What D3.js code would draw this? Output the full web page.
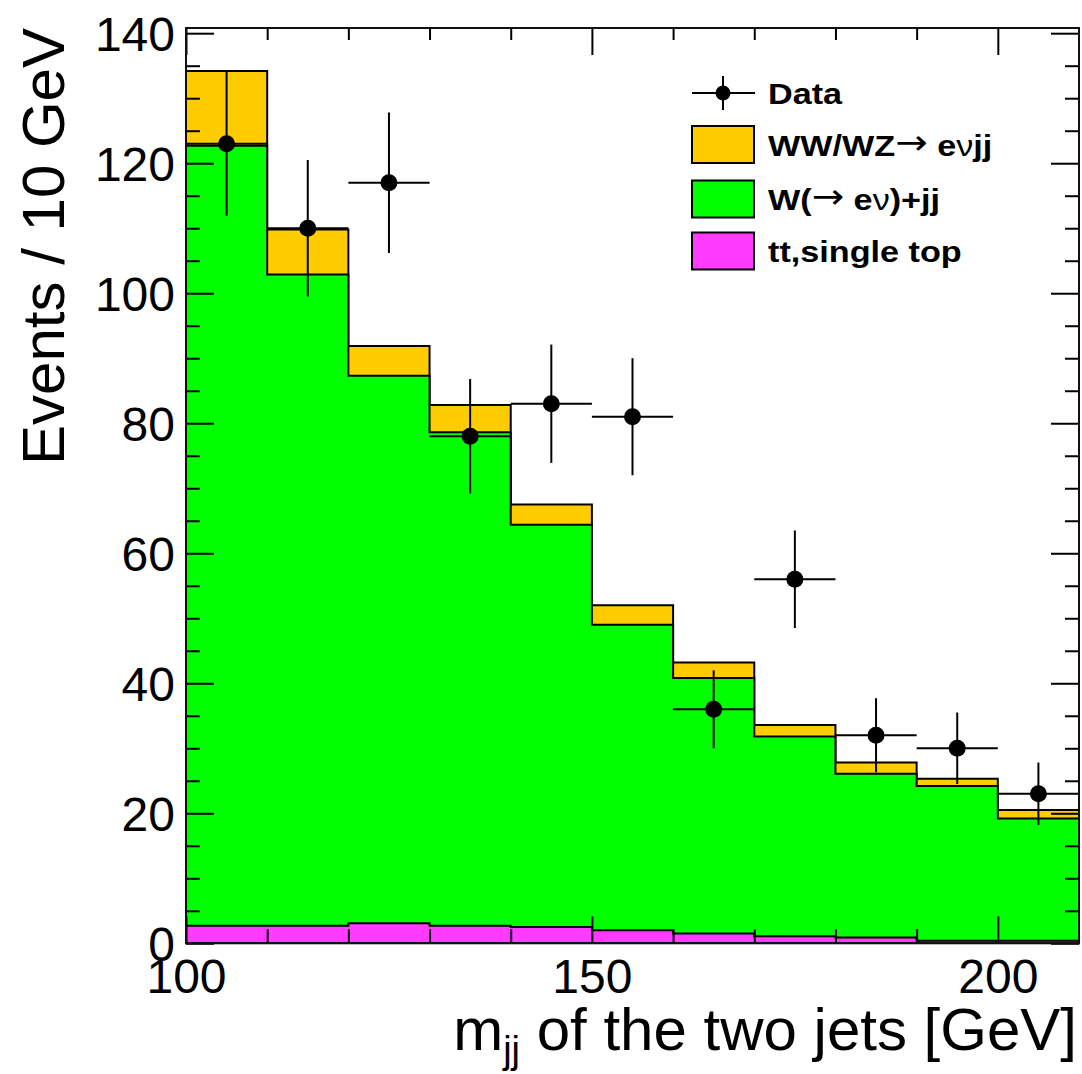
<!DOCTYPE html>
<html>
<head>
<meta charset="utf-8">
<script src="https://cdn.jsdelivr.net/npm/d3@7"></script>
<style>
  html, body { margin: 0; padding: 0; background: #fff; }
  svg { display: block; }
  text { font-family: "Liberation Sans", Arial, Helvetica, sans-serif; fill: #000; }
</style>
</head>
<body>
<svg id="chart" width="1082" height="1074"></svg>
<script>
// m_jj distribution, 10 GeV bins from 100 to 210 GeV
const binLow = [100, 110, 120, 130, 140, 150, 160, 170, 180, 190, 200];
const binWidth = 10;

// Background components (events per bin)
const topSingleTop = [2.7, 2.7, 3.1, 2.7, 2.5, 2.0, 1.5, 1.1, 0.9, 0.4, 0.4];
const wPlusJets    = [120.0, 100.2, 84.2, 75.9, 61.9, 47.0, 39.3, 30.7, 25.2, 23.8, 18.8];
const wwwzSignal   = [11.5, 6.9, 4.6, 4.2, 3.1, 3.0, 2.4, 1.8, 1.7, 1.1, 1.3];

// Observed data with statistical uncertainties
const dataCounts = [123, 110, 117, 78, 83, 81, 36, 56, 32, 30, 23];
const dataErrors = [11.1, 10.5, 10.8, 8.8, 9.1, 9.0, 6.0, 7.5, 5.7, 5.5, 4.8];

// Axis ticks
const yMajorTicks = [0, 20, 40, 60, 80, 100, 120, 140];
const yMinorTicks = [5, 10, 15, 25, 30, 35, 45, 50, 55, 65, 70, 75, 85, 90, 95, 105, 110, 115, 125, 130, 135];
const xMajorTicks = [100, 150, 200];
const xMinorTicks = [110, 120, 130, 140, 160, 170, 180, 190];

// Legend entries
const legendEntries = [
  { key: "data" },
  { key: "wwwz", color: "#ffcc00" },
  { key: "wjj", color: "#00ff00" },
  { key: "top", color: "#ff3cff" }
];

const svg = d3.select("#chart");
const plotLeft = 186, plotRight = 1079, plotTop = 28, plotBottom = 943.3;

const x = d3.scaleLinear().domain([100, 210]).range([plotLeft, plotRight]);
const y = d3.scaleLinear().domain([0, 140.8]).range([plotBottom, plotTop]);

// Stack the backgrounds: top first, W+jj, then WW/WZ
const rows = binLow.map((lo, i) => ({
  lo, top: topSingleTop[i], wjj: wPlusJets[i], wwwz: wwwzSignal[i]
}));
const stack = d3.stack().keys(["top", "wjj", "wwwz"]);
const layers = stack(rows);
const colors = { top: "#ff3cff", wjj: "#00ff00", wwwz: "#ffcc00" };

const stepLine = d3.line().x(d => x(d[0])).y(d => y(d[1]));
function histPoints(layer) {
  const pts = [[100, 0]];
  layer.forEach(d => {
    pts.push([d.data.lo, d[1]]);
    pts.push([d.data.lo + binWidth, d[1]]);
  });
  pts.push([210, 0]);
  return pts;
}

svg.append("clipPath").attr("id", "plotclip")
  .append("rect").attr("x", plotLeft).attr("y", plotTop)
  .attr("width", plotRight - plotLeft).attr("height", plotBottom - plotTop);

const hists = svg.append("g").attr("clip-path", "url(#plotclip)");
// cumulative histograms drawn from the largest down, each filled from zero
layers.slice().reverse().forEach(layer => {
  hists.append("path")
    .attr("d", stepLine(histPoints(layer)) + "Z")
    .attr("fill", colors[layer.key])
    .attr("stroke", "#000")
    .attr("stroke-width", 2)
    .attr("stroke-linejoin", "miter");
});

// Axes: ticks pointing inward on all four sides
const tickFont = 48;
function styleAxis(g) {
  g.select(".domain").remove();
  g.selectAll(".tick line").attr("stroke", "#000").attr("stroke-width", 2);
  g.selectAll("text").style("font-size", tickFont + "px");
}

svg.append("g").attr("transform", `translate(${plotLeft},0)`)
  .call(d3.axisLeft(y).tickValues(yMajorTicks).tickSize(-28).tickPadding(11).tickFormat(d3.format("d")))
  .call(styleAxis)
  .selectAll("text").attr("dy", "0.36em");
svg.append("g").attr("transform", `translate(${plotLeft},0)`)
  .call(d3.axisLeft(y).tickValues(yMinorTicks).tickSize(-14).tickFormat(""))
  .call(styleAxis);
svg.append("g").attr("transform", `translate(${plotRight},0)`)
  .call(d3.axisRight(y).tickValues(yMajorTicks).tickSize(-28).tickFormat(""))
  .call(styleAxis);
svg.append("g").attr("transform", `translate(${plotRight},0)`)
  .call(d3.axisRight(y).tickValues(yMinorTicks).tickSize(-14).tickFormat(""))
  .call(styleAxis);

svg.append("g").attr("transform", `translate(0,${plotBottom})`)
  .call(d3.axisBottom(x).tickValues(xMajorTicks).tickSize(-27).tickPadding(12).tickFormat(d3.format("d")))
  .call(styleAxis)
  .selectAll("text").attr("y", 50).attr("dy", 0);
svg.append("g").attr("transform", `translate(0,${plotBottom})`)
  .call(d3.axisBottom(x).tickValues(xMinorTicks).tickSize(-14).tickFormat(""))
  .call(styleAxis);
svg.append("g").attr("transform", `translate(0,${plotTop})`)
  .call(d3.axisTop(x).tickValues(xMajorTicks).tickSize(-27).tickFormat(""))
  .call(styleAxis);
svg.append("g").attr("transform", `translate(0,${plotTop})`)
  .call(d3.axisTop(x).tickValues(xMinorTicks).tickSize(-12).tickFormat(""))
  .call(styleAxis);

// Frame
svg.append("rect")
  .attr("x", plotLeft).attr("y", plotTop)
  .attr("width", plotRight - plotLeft).attr("height", plotBottom - plotTop)
  .attr("fill", "none").attr("stroke", "#111").attr("stroke-width", 2);

// Data points with error bars
const pts = svg.append("g").attr("clip-path", "url(#plotclip)");
binLow.forEach((lo, i) => {
  const cx = lo + binWidth / 2, v = dataCounts[i], e = dataErrors[i];
  pts.append("line")
    .attr("x1", x(lo)).attr("x2", x(lo + binWidth))
    .attr("y1", y(v)).attr("y2", y(v))
    .attr("stroke", "#000").attr("stroke-width", 2);
  pts.append("line")
    .attr("x1", x(cx)).attr("x2", x(cx))
    .attr("y1", y(v - e)).attr("y2", y(v + e))
    .attr("stroke", "#000").attr("stroke-width", 2);
  pts.append("circle")
    .attr("cx", x(cx)).attr("cy", y(v)).attr("r", 8.5)
    .attr("fill", "#000");
});

// Legend
const legend = svg.append("g");
const legX = 692, boxW = 62, textX = 768;
const rowY = [93, 144.5, 199, 251];
const legFont = 30;

// parts: [text, kind] where kind is "b" (bold), "sym" (thin symbol glyph), "arrow"
function legendText(yy, parts) {
  const t = legend.append("text")
    .attr("transform", `translate(${textX},${yy + 11}) scale(1.14,1)`)
    .style("font-size", legFont + "px")
    .style("font-weight", "bold");
  parts.forEach(p => {
    const s = t.append("tspan").text(p[0]);
    if (p[1] === "sym") {
      s.style("font-weight", "normal");
    } else if (p[1] === "arrow") {
      s.style("font-weight", "normal")
        .style("font-family", "'DejaVu Sans', sans-serif")
        .style("font-size", "34px")
        .attr("dy", -2);
    } else if (p[1] === "after") {
      s.attr("dy", 2);
    }
  });
}

legendEntries.forEach((entry, i) => {
  const cy = rowY[i];
  if (entry.key === "data") {
    legend.append("line").attr("x1", legX).attr("x2", legX + boxW + 1)
      .attr("y1", cy).attr("y2", cy).attr("stroke", "#000").attr("stroke-width", 2);
    legend.append("line").attr("x1", legX + 31).attr("x2", legX + 31)
      .attr("y1", cy - 17).attr("y2", cy + 17).attr("stroke", "#000").attr("stroke-width", 2);
    legend.append("circle").attr("cx", legX + 31).attr("cy", cy).attr("r", 7.5).attr("fill", "#000");
  } else {
    legend.append("rect").attr("x", legX).attr("y", cy - 18.5)
      .attr("width", boxW).attr("height", 37)
      .attr("fill", entry.color).attr("stroke", "#000").attr("stroke-width", 2);
  }
});
legendText(rowY[0], [["Data", "b"]]);
legendText(rowY[1], [["WW/WZ", "b"], ["\u2192", "arrow"], [" e", "after"], ["\u03bd", "sym"], ["jj", "b"]]);
legendText(rowY[2], [["W(", "b"], ["\u2192", "arrow"], [" e", "after"], ["\u03bd", "sym"], [")+jj", "b"]]);
legendText(rowY[3], [["tt,single top", "b"]]);

// Axis titles
svg.append("text")
  .attr("transform", `translate(64,${plotTop}) rotate(-90)`)
  .attr("text-anchor", "end")
  .style("font-size", "60px")
  .text("Events / 10 GeV");

const xt = svg.append("text")
  .attr("x", 1077).attr("y", 1050)
  .attr("text-anchor", "end")
  .style("font-size", "60px");
xt.append("tspan").text("m");
xt.append("tspan").attr("dy", 13).style("font-size", "38px").text("jj");
xt.append("tspan").attr("dy", -13).text(" of the two jets [GeV]");
</script>
</body>
</html>
